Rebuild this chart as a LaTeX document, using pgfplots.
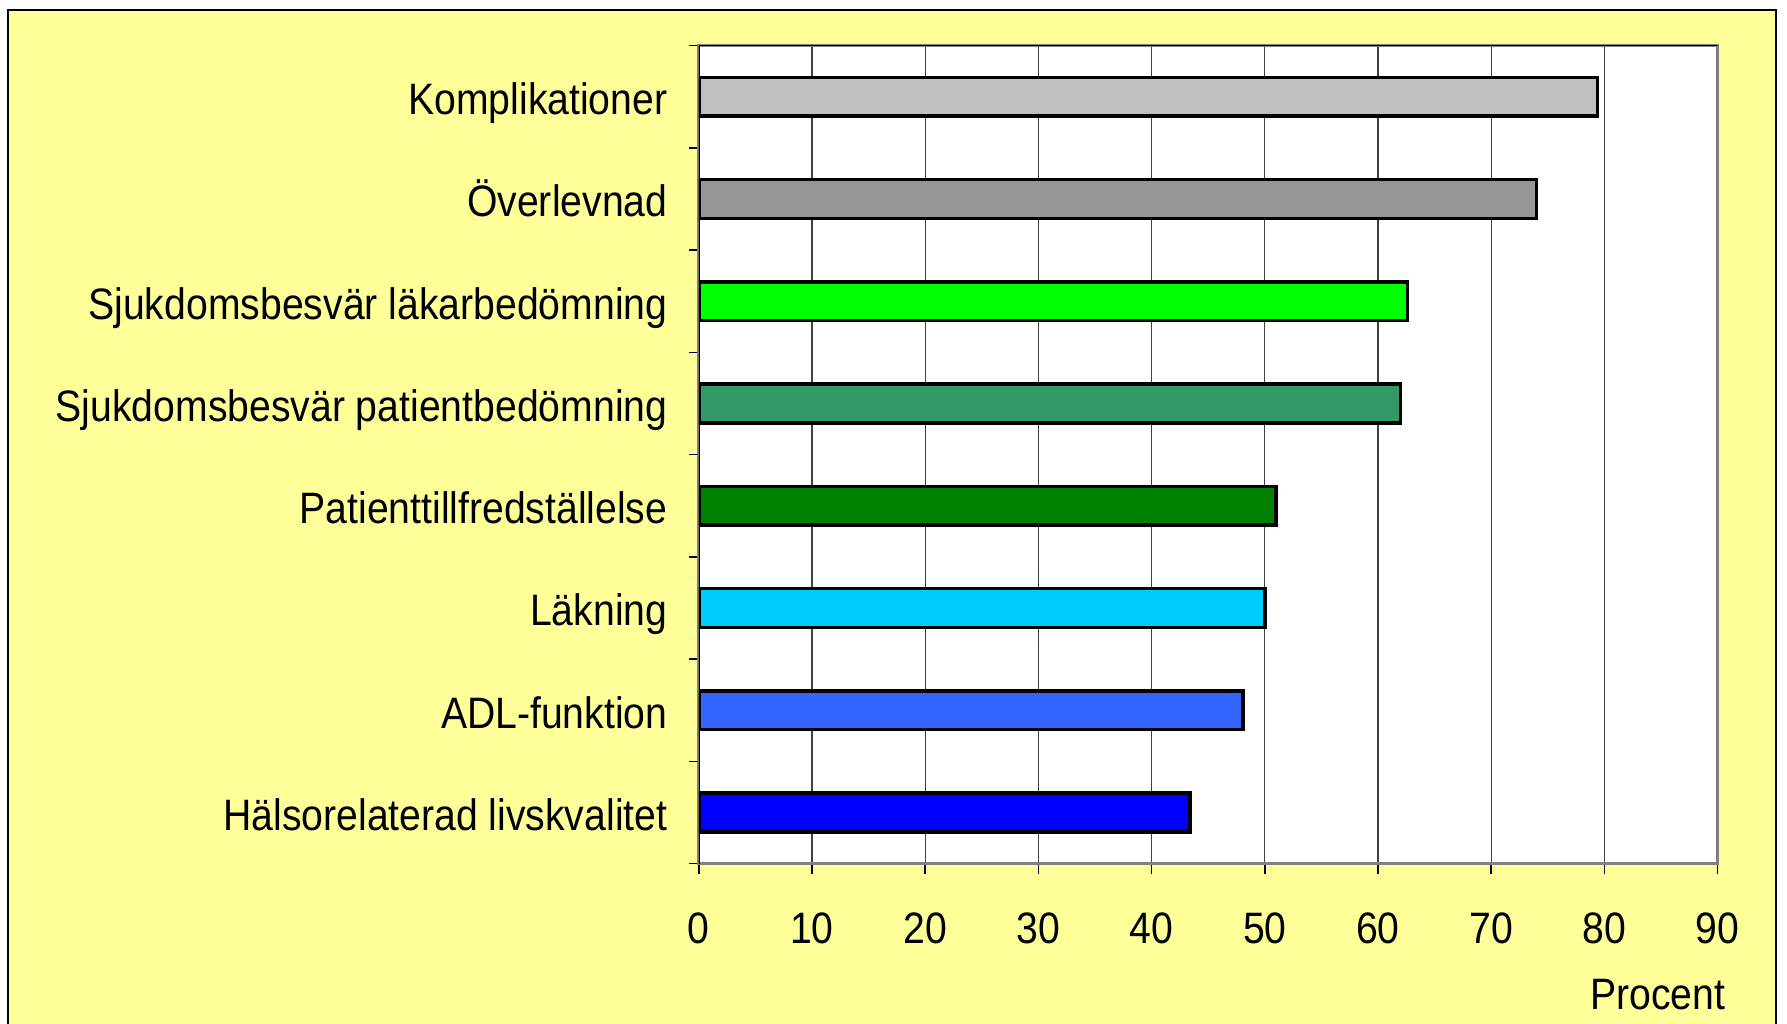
\documentclass[border=0pt]{standalone}
\usepackage{fontspec}
\setmainfont[FakeStretch=0.89]{Liberation Sans}
\usepackage{pgfplots}
\pgfplotsset{compat=1.18}
\definecolor{bg}{HTML}{FFFF99}
\definecolor{c1}{HTML}{C0C0C0}
\definecolor{c2}{HTML}{969696}
\definecolor{c3}{HTML}{00FF00}
\definecolor{c4}{HTML}{339966}
\definecolor{c5}{HTML}{008000}
\definecolor{c6}{HTML}{00CCFF}
\definecolor{c7}{HTML}{3366FF}
\definecolor{c8}{HTML}{0000FF}
\begin{document}
\begin{tikzpicture}[x=1pt,y=1pt]
\useasboundingbox (0,0) rectangle (446.75,256);
\fill[white] (0,0) rectangle (446.75,256);
\filldraw[fill=bg, draw=black, line width=0.5pt] (2,-5) rectangle (444,253.5);
\begin{axis}[
  at={(174.7pt,40.1pt)}, anchor=south west,
  scale only axis, width=254.7pt, height=204.5pt,
  xmin=0, xmax=90, ymin=-0.5, ymax=7.5,
  y dir=reverse,
  xbar, bar width=9.7pt, bar shift=0pt,
  axis background/.style={fill=white},
  axis line style={draw=gray, line width=0.8pt},
  xtick={0,10,...,90},
  xmajorgrids,
  major grid style={black!75, line width=0.3pt},
  ytick={0,...,7},
  yticklabels={Komplikationer, {Överlevnad\hspace{2.4pt}}, Sjukdomsbesvär läkarbedömning, Sjukdomsbesvär patientbedömning, Patienttillfredställelse, Läkning, ADL-funktion, Hälsorelaterad livskvalitet},
  minor ytick={-0.5,0.5,...,7.5},
  tick align=outside,
  xtick pos=bottom, ytick pos=left,
  major tick length=2.5pt, minor tick length=2.5pt,
  y tick style={draw=none},
  minor y tick style={draw=black, line width=0.4pt},
  x tick style={draw=black, line width=0.4pt},
  /pgf/number format/assume math mode=true,
  tick label style={font=\fontsize{11}{13}\selectfont},
  yticklabel style={text height=7.9pt, text depth=0pt, inner sep=0pt, anchor=east, xshift=-5.15pt, yshift=-0.5pt},
  xticklabel style={anchor=base, yshift=-17.4pt},
  every axis plot/.append style={draw=black, line width=0.9pt},
]
\addplot[fill=c1] coordinates {(79.4,0)};
\addplot[fill=c2] coordinates {(74.0,1)};
\addplot[fill=c3] coordinates {(62.6,2)};
\addplot[fill=c4] coordinates {(62.0,3)};
\addplot[fill=c5] coordinates {(51.0,4)};
\addplot[fill=c6] coordinates {(50.0,5)};
\addplot[fill=c7] coordinates {(48.1,6)};
\addplot[fill=c8] coordinates {(43.4,7)};
\draw[black, line width=0.4pt] (rel axis cs:0,0) -- (rel axis cs:0,1);
\draw[black, line width=0.4pt] (rel axis cs:0,1) -- (rel axis cs:1,1);
\end{axis}
\node[anchor=base east, inner sep=0pt, font=\fontsize{11}{13}\selectfont] at (431.5,3.5) {Procent};
\end{tikzpicture}
\end{document}
